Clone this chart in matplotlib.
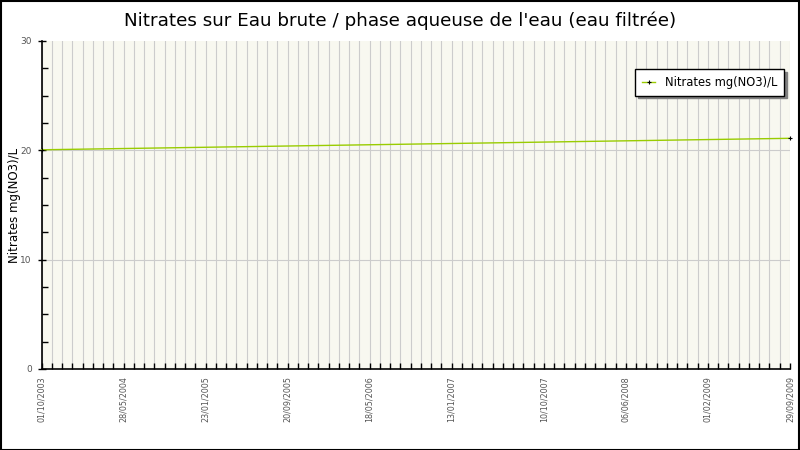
import matplotlib
matplotlib.use("Agg")
import matplotlib.pyplot as plt
import matplotlib.dates as mdates
from matplotlib.patches import Rectangle
from matplotlib.ticker import MultipleLocator, FixedLocator
import numpy as np
from datetime import datetime

# --- data ---
dates = ["01/10/2003", "29/09/2009"]
nitrates = [20.05, 21.1]
tick_dates = ["01/10/2003", "28/05/2004", "23/01/2005", "20/09/2005",
              "18/05/2006", "13/01/2007", "10/10/2007", "06/06/2008",
              "01/02/2009", "29/09/2009"]

TITLE = "Nitrates sur Eau brute / phase aqueuse de l'eau (eau filtrée)"
YLABEL = "Nitrates mg(NO3)/L"
LINE_C = '#99CC00'
BG_C = '#F8F8F0'
GRID_C = '#CCCCCC'
TXT_C = '#555555'

to_dt = lambda s: datetime.strptime(s, "%d/%m/%Y")
x = [to_dt(d) for d in dates]
xt = [mdates.date2num(to_dt(d)) for d in tick_dates]

fig = plt.figure(figsize=(8, 4.5), dpi=100)
ax = fig.add_axes([41.5 / 800, 81 / 450, (790 - 41.5) / 800, (369 - 41) / 450])
ax.set_facecolor(BG_C)

# vertical grid: every 30 days
start, end = mdates.date2num(x[0]), mdates.date2num(x[-1])
minor = np.arange(start, end + 1, 30)
for v in minor:
    ax.axvline(v, color=GRID_C, lw=0.8, zorder=0)
for v in (10, 20):
    ax.axhline(v, color=GRID_C, lw=0.8, zorder=0)

ax.plot(x, nitrates, color=LINE_C, lw=1.0, marker='+', ms=3,
        mec='black', mew=0.8, label=YLABEL, zorder=3, clip_on=False)

ax.set_xlim(start, end)
ax.set_ylim(0, 30)
ax.yaxis.set_major_locator(MultipleLocator(10))
ax.yaxis.set_minor_locator(FixedLocator([v for v in np.arange(0, 30.1, 2.5) if v % 10]))
ax.xaxis.set_major_locator(FixedLocator(xt))
ax.xaxis.set_minor_locator(FixedLocator([v for v in minor if v not in xt]))
ax.set_xticklabels(tick_dates, rotation=90, fontsize=5.8, color=TXT_C)
ax.tick_params(axis='y', which='major', labelsize=6.5, labelcolor=TXT_C,
               direction='inout', length=6, width=1, pad=4)
ax.tick_params(axis='y', which='minor', direction='in', length=4, width=1)
ax.tick_params(axis='x', which='major', direction='in', length=4, width=1, pad=5)
ax.tick_params(axis='x', which='minor', direction='in', length=4, width=1)

for s in ('top', 'right'):
    ax.spines[s].set_visible(False)
for s in ('left', 'bottom'):
    ax.spines[s].set_linewidth(1.2)

ax.set_ylabel(YLABEL, fontsize=8.5)
ax.yaxis.set_label_coords(-0.028, 0.5)

fig.text(0.5, 0.955, TITLE, ha='center', va='center', fontsize=13.2)

leg = ax.legend(loc='upper right', bbox_to_anchor=(0.98, 0.847),
                bbox_transform=fig.transFigure, borderaxespad=0,
                fancybox=False, shadow={'color': '#808080', 'alpha': 1},
                framealpha=1, edgecolor='black', fontsize=8.3,
                handlelength=1.2, handletextpad=0.8, borderpad=0.6)
leg.get_frame().set_linewidth(1.0)

fig.patches.append(Rectangle((0.001, 0.001), 0.998, 0.997, transform=fig.transFigure,
                             fill=False, ec='black', lw=1.5))

fig.savefig("out.png", dpi=100, facecolor='white')
